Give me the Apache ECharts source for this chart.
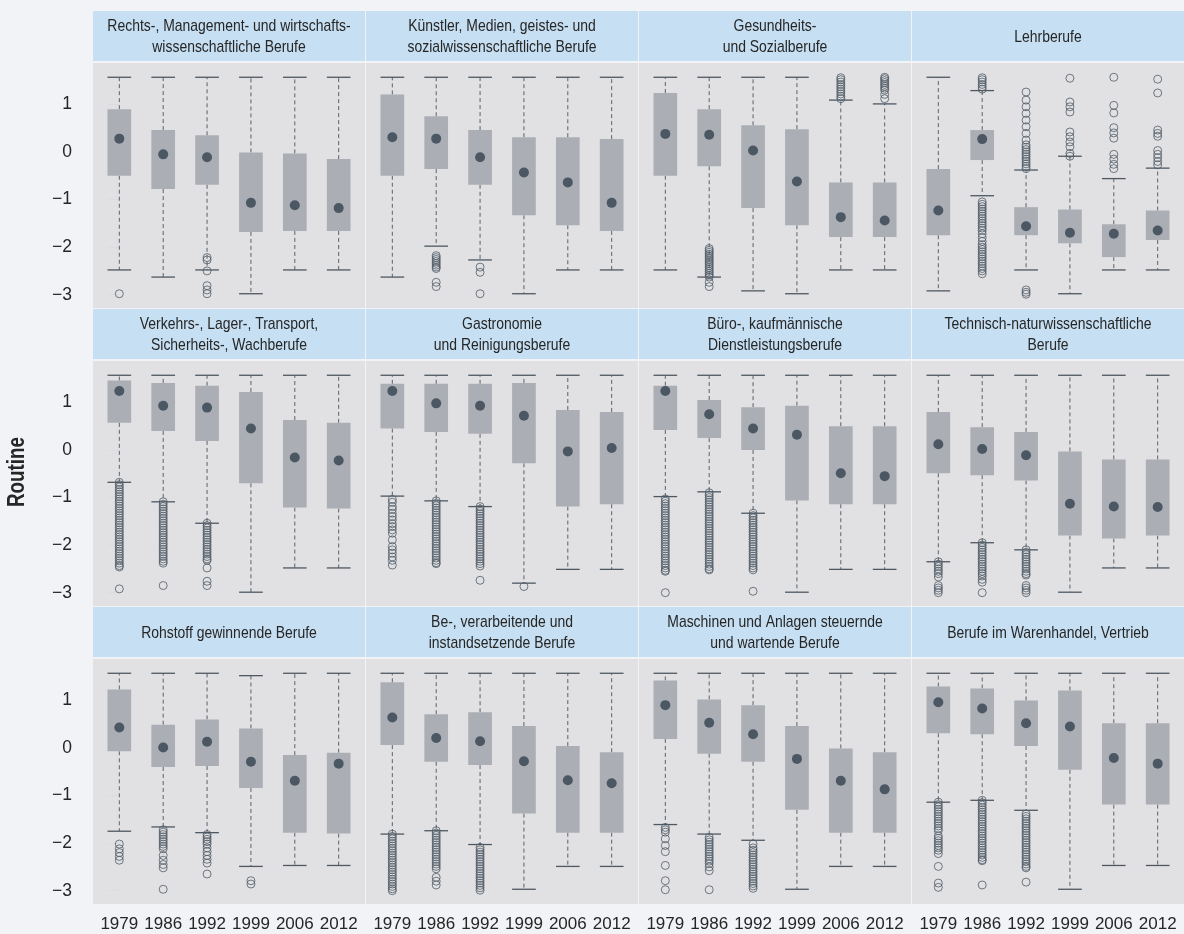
<!DOCTYPE html>
<html>
<head>
<meta charset="utf-8">
<script src="https://cdn.jsdelivr.net/npm/echarts@6/dist/echarts.min.js"></script>
<style>
html,body{margin:0;padding:0;background:#f1f3f6;}
#chart{width:1184px;height:934px;}
</style>
</head>
<body>
<div id="chart"></div>
<script>
// ---------- data ----------
const years = ['1979', '1986', '1992', '1999', '2006', '2012'];
const yTicks = [-3, -2, -1, 0, 1];
const yAxisTitle = 'Routine';

const panelTitles = [
  'Rechts-, Management- und wirtschafts-\nwissenschaftliche Berufe',
  'Künstler, Medien, geistes- und\nsozialwissenschaftliche Berufe',
  'Gesundheits-\nund Sozialberufe',
  'Lehrberufe',
  'Verkehrs-, Lager-, Transport,\nSicherheits-, Wachberufe',
  'Gastronomie\nund Reinigungsberufe',
  'Büro-, kaufmännische\nDienstleistungsberufe',
  'Technisch-naturwissenschaftliche\nBerufe',
  'Rohstoff gewinnende Berufe',
  'Be-, verarbeitende und\ninstandsetzende Berufe',
  'Maschinen und Anlagen steuernde\nund wartende Berufe',
  'Berufe im Warenhandel, Vertrieb'
];

const lowerWhisker = [
  [-2.48, -2.63, -2.48, -2.98, -2.48, -2.48],
  [-2.63, -1.98, -2.27, -2.98, -2.48, -2.48],
  [-2.48, -2.63, -2.92, -2.98, -2.48, -2.48],
  [-2.92, -0.92, -2.48, -2.98, -2.48, -2.48],
  [-0.68, -1.09, -1.54, -2.99, -2.48, -2.48],
  [-0.97, -1.07, -1.19, -2.80, -2.51, -2.51],
  [-0.98, -0.88, -1.33, -2.99, -2.51, -2.51],
  [-2.35, -1.95, -2.10, -2.99, -2.48, -2.48],
  [-1.75, -1.66, -1.78, -2.49, -2.47, -2.47],
  [-1.81, -1.74, -2.03, -2.97, -2.49, -2.49],
  [-1.61, -1.81, -1.94, -2.97, -2.49, -2.49],
  [-1.14, -1.10, -1.31, -2.97, -2.47, -2.47]
];
const lowerQuartile = [
  [-0.50, -0.78, -0.69, -1.68, -1.66, -1.66],
  [-0.50, -0.36, -0.69, -1.33, -1.54, -1.66],
  [-0.50, -0.30, -1.18, -1.54, -1.79, -1.79],
  [-1.75, -0.17, -1.75, -1.92, -2.21, -1.85],
  [0.57, 0.40, 0.19, -0.70, -1.21, -1.23],
  [0.45, 0.38, 0.34, -0.28, -1.19, -1.14],
  [0.42, 0.25, 0.00, -1.06, -1.14, -1.14],
  [-0.49, -0.53, -0.64, -1.80, -1.86, -1.80],
  [-0.07, -0.40, -0.38, -0.84, -1.78, -1.80],
  [0.06, -0.29, -0.36, -1.38, -1.78, -1.78],
  [0.19, -0.12, -0.29, -1.30, -1.78, -1.78],
  [0.31, 0.29, 0.04, -0.46, -1.19, -1.19]
];
const medians = [
  [0.28, -0.05, -0.11, -1.07, -1.12, -1.18],
  [0.31, 0.28, -0.11, -0.43, -0.64, -1.07],
  [0.38, 0.36, 0.03, -0.62, -1.37, -1.44],
  [-1.23, 0.27, -1.56, -1.70, -1.72, -1.65],
  [1.24, 0.93, 0.89, 0.45, -0.16, -0.22],
  [1.24, 0.98, 0.93, 0.72, -0.03, 0.04],
  [1.24, 0.75, 0.45, 0.32, -0.49, -0.55],
  [0.12, 0.02, -0.11, -1.13, -1.19, -1.20],
  [0.43, 0.01, 0.13, -0.29, -0.69, -0.33],
  [0.64, 0.21, 0.14, -0.28, -0.68, -0.74],
  [0.90, 0.53, 0.29, -0.23, -0.69, -0.87],
  [0.96, 0.83, 0.52, 0.45, -0.21, -0.33]
];
const upperQuartile = [
  [0.90, 0.46, 0.35, -0.01, -0.03, -0.15],
  [1.21, 0.75, 0.46, 0.31, 0.31, 0.27],
  [1.24, 0.90, 0.56, 0.48, -0.64, -0.64],
  [-0.36, 0.46, -1.16, -1.21, -1.52, -1.23],
  [1.46, 1.41, 1.35, 1.22, 0.63, 0.57],
  [1.39, 1.39, 1.39, 1.41, 0.84, 0.80],
  [1.35, 1.05, 0.90, 0.93, 0.50, 0.50],
  [0.80, 0.48, 0.38, -0.03, -0.20, -0.20],
  [1.23, 0.49, 0.60, 0.41, -0.15, -0.10],
  [1.38, 0.71, 0.75, 0.46, 0.04, -0.09],
  [1.42, 1.02, 0.90, 0.46, -0.01, -0.09],
  [1.29, 1.25, 1.00, 1.21, 0.52, 0.52]
];
const upperWhisker = [
  [1.57, 1.57, 1.57, 1.57, 1.57, 1.57],
  [1.57, 1.57, 1.57, 1.57, 1.57, 1.57],
  [1.57, 1.57, 1.57, 1.57, 1.09, 1.01],
  [1.57, 1.29, -0.38, -0.09, -0.56, -0.34],
  [1.57, 1.57, 1.57, 1.57, 1.57, 1.57],
  [1.57, 1.57, 1.57, 1.57, 1.57, 1.57],
  [1.57, 1.57, 1.57, 1.57, 1.57, 1.57],
  [1.57, 1.57, 1.57, 1.57, 1.57, 1.57],
  [1.57, 1.57, 1.57, 1.52, 1.57, 1.57],
  [1.57, 1.57, 1.57, 1.57, 1.57, 1.57],
  [1.57, 1.57, 1.57, 1.57, 1.57, 1.57],
  [1.57, 1.57, 1.57, 1.57, 1.57, 1.57]
];
const outliers = [
  [[-2.98], [], [-2.22, -2.27, -2.50, -2.81, -2.90, -2.98], [], [], []],
  [[], [-2.18, -2.22, -2.26, -2.30, -2.34, -2.38, -2.42, -2.45, -2.74, -2.83], [-2.42, -2.53, -2.98], [], [], []],
  [[], [-2.03, -2.07, -2.11, -2.15, -2.19, -2.23, -2.27, -2.31, -2.35, -2.39, -2.43, -2.47, -2.51, -2.55, -2.59, -2.63, -2.74, -2.83], [], [],
   [1.12, 1.17, 1.22, 1.27, 1.32, 1.37, 1.42, 1.47, 1.52, 1.56],
   [1.12, 1.21, 1.30, 1.34, 1.38, 1.42, 1.46, 1.50, 1.54, 1.57]],
  [[],
   [1.32, 1.37, 1.42, 1.47, 1.52, 1.56, -1.05, -1.10, -1.15, -1.20, -1.25, -1.30, -1.35, -1.40, -1.45, -1.50, -1.55, -1.60, -1.65, -1.72, -1.80, -1.88, -1.95, -2.00, -2.05, -2.10, -2.15, -2.20, -2.25, -2.30, -2.35, -2.40, -2.45, -2.50, -2.56],
   [1.26, 1.09, 0.95, 0.81, 0.67, 0.53, 0.39, 0.25, 0.15, 0.10, 0.05, 0.00, -0.05, -0.10, -0.15, -0.20, -0.25, -0.30, -0.35, -2.90, -2.95, -2.99],
   [1.55, 1.05, 0.95, 0.84, 0.42, 0.32, 0.21, 0.11, -0.03, -0.09],
   [1.57, 0.98, 0.82, 0.51, 0.40, 0.29, -0.05, -0.15, -0.26, -0.35],
   [1.53, 1.24, 0.46, 0.39, 0.33, 0.03, -0.05, -0.12, -0.20, -0.27]],
  [[-0.68, -0.73, -0.78, -0.83, -0.88, -0.93, -0.98, -1.03, -1.08, -1.13, -1.18, -1.23, -1.28, -1.33, -1.38, -1.43, -1.48, -1.53, -1.58, -1.63, -1.68, -1.73, -1.78, -1.83, -1.88, -1.93, -1.98, -2.03, -2.08, -2.13, -2.18, -2.23, -2.28, -2.33, -2.38, -2.43, -2.46, -2.92],
   [-1.09, -1.14, -1.19, -1.24, -1.29, -1.34, -1.39, -1.44, -1.49, -1.54, -1.59, -1.64, -1.69, -1.74, -1.79, -1.84, -1.89, -1.94, -1.99, -2.04, -2.09, -2.14, -2.19, -2.24, -2.29, -2.34, -2.38, -2.85],
   [-1.54, -1.59, -1.64, -1.69, -1.74, -1.79, -1.84, -1.89, -1.94, -1.99, -2.04, -2.09, -2.14, -2.19, -2.24, -2.29, -2.32, -2.48, -2.76, -2.85],
   [], [], []],
  [[-1.04, -1.10, -1.19, -1.25, -1.33, -1.40, -1.47, -1.55, -1.61, -1.68, -1.75, -1.89, -2.03, -2.10, -2.17, -2.25, -2.32, -2.42],
   [-1.07, -1.12, -1.17, -1.22, -1.27, -1.32, -1.37, -1.42, -1.47, -1.52, -1.57, -1.62, -1.67, -1.72, -1.77, -1.82, -1.87, -1.92, -1.97, -2.02, -2.07, -2.12, -2.17, -2.22, -2.27, -2.32, -2.37, -2.39],
   [-1.19, -1.24, -1.29, -1.34, -1.39, -1.44, -1.49, -1.54, -1.59, -1.64, -1.69, -1.74, -1.79, -1.84, -1.89, -1.94, -1.99, -2.04, -2.09, -2.14, -2.19, -2.24, -2.29, -2.34, -2.39, -2.44, -2.74],
   [-2.87], [], []],
  [[-1.03, -1.08, -1.13, -1.18, -1.23, -1.28, -1.33, -1.38, -1.43, -1.48, -1.53, -1.58, -1.63, -1.68, -1.73, -1.78, -1.83, -1.88, -1.93, -1.98, -2.03, -2.08, -2.13, -2.18, -2.23, -2.28, -2.33, -2.38, -2.43, -2.48, -2.53, -2.55, -3.00],
   [-0.90, -0.95, -1.00, -1.05, -1.10, -1.15, -1.20, -1.25, -1.30, -1.35, -1.40, -1.45, -1.50, -1.55, -1.60, -1.65, -1.70, -1.75, -1.80, -1.85, -1.90, -1.95, -2.00, -2.05, -2.10, -2.15, -2.20, -2.25, -2.30, -2.35, -2.40, -2.45, -2.50, -2.52],
   [-1.33, -1.38, -1.43, -1.48, -1.53, -1.58, -1.63, -1.68, -1.73, -1.78, -1.83, -1.88, -1.93, -1.98, -2.03, -2.08, -2.13, -2.18, -2.23, -2.28, -2.33, -2.38, -2.43, -2.48, -2.52, -2.97],
   [], [], []],
  [[-2.35, -2.40, -2.45, -2.50, -2.55, -2.60, -2.67, -2.85, -2.90, -2.95, -3.00],
   [-1.95, -2.00, -2.05, -2.10, -2.15, -2.20, -2.25, -2.30, -2.35, -2.40, -2.45, -2.50, -2.55, -2.60, -2.65, -2.72, -2.78, -3.00],
   [-2.10, -2.15, -2.20, -2.25, -2.30, -2.35, -2.40, -2.45, -2.50, -2.55, -2.60, -2.63, -2.85, -2.90, -2.95, -3.00],
   [], [], []],
  [[-2.02, -2.12, -2.20, -2.28, -2.36],
   [-1.72, -1.77, -1.82, -1.87, -1.92, -1.97, -2.02, -2.07, -2.12, -2.26, -2.36, -2.45, -2.52, -2.97],
   [-1.82, -1.87, -1.92, -1.97, -2.02, -2.10, -2.18, -2.26, -2.34, -2.42, -2.65],
   [-2.79, -2.86], [], []],
  [[-1.81, -1.86, -1.91, -1.96, -2.01, -2.06, -2.11, -2.16, -2.21, -2.26, -2.31, -2.36, -2.41, -2.46, -2.51, -2.56, -2.61, -2.66, -2.71, -2.76, -2.81, -2.86, -2.91, -2.96, -3.00],
   [-1.74, -1.79, -1.84, -1.89, -1.94, -1.99, -2.04, -2.09, -2.14, -2.19, -2.24, -2.29, -2.34, -2.39, -2.44, -2.49, -2.54, -2.72, -2.80, -2.88],
   [-2.09, -2.14, -2.19, -2.24, -2.29, -2.34, -2.39, -2.44, -2.49, -2.54, -2.59, -2.64, -2.69, -2.74, -2.79, -2.84, -2.89, -2.94, -2.99],
   [], [], []],
  [[-1.67, -1.72, -1.77, -1.91, -2.05, -2.18, -2.47, -2.79, -2.98],
   [-1.88, -1.93, -1.98, -2.03, -2.08, -2.13, -2.18, -2.23, -2.28, -2.33, -2.38, -2.43, -2.50, -2.58, -2.98],
   [-2.02, -2.10, -2.15, -2.20, -2.25, -2.30, -2.35, -2.40, -2.45, -2.50, -2.55, -2.60, -2.65, -2.70, -2.75, -2.80, -2.85, -2.90, -2.95],
   [], [], []],
  [[-1.14, -1.19, -1.24, -1.29, -1.34, -1.39, -1.44, -1.49, -1.54, -1.59, -1.64, -1.69, -1.74, -1.85, -1.90, -1.95, -2.00, -2.05, -2.10, -2.15, -2.22, -2.49, -2.84, -2.93],
   [-1.10, -1.15, -1.20, -1.25, -1.30, -1.35, -1.40, -1.45, -1.50, -1.55, -1.60, -1.65, -1.70, -1.75, -1.80, -1.85, -1.90, -1.95, -2.00, -2.05, -2.10, -2.15, -2.20, -2.25, -2.30, -2.35, -2.37, -2.88],
   [-1.39, -1.44, -1.49, -1.54, -1.59, -1.64, -1.69, -1.74, -1.79, -1.84, -1.89, -1.94, -1.99, -2.04, -2.09, -2.14, -2.19, -2.24, -2.29, -2.34, -2.39, -2.44, -2.49, -2.52, -2.82],
   [], [], []]
];

// ---------- style / layout ----------
const PAGE_BG = '#f1f3f6';
const HEADER_BG = '#c6dff2';
const PLOT_BG = '#e1e1e3';
const BOX_FILL = '#abaeb4';
const DOT_FILL = '#4b5864';
const WHISKER = '#58626c';
const CAP = '#4e5862';
const OUTLIER = '#505b66';
const TEXT = '#262626';
const FONT = '"Liberation Sans", Arial, sans-serif';
const CONDENSE = 0.82;

const PANEL_LEFT = 93, PANEL_PITCH_X = 273, PANEL_W = 272;
const HEADER_TOP = 11, ROW_PITCH = 298, HEADER_H = 50, PLOT_OFFSET = 52, PLOT_H = 245;
const BOX_W = 0.54;
const Y_MIN = -3.28, Y_MAX = 1.87;

function fmtY(v) { return v < 0 ? '\u2212' + Math.abs(v) : String(v); }

function renderBox(params, api) {
  const x = api.value(0);
  const lo = api.coord([x, api.value(1)]);
  const q1 = api.coord([x, api.value(2)]);
  const md = api.coord([x, api.value(3)]);
  const q3 = api.coord([x, api.value(4)]);
  const hi = api.coord([x, api.value(5)]);
  const bw = api.size([BOX_W, 0])[0];
  const cx = lo[0];
  const dash = { stroke: WHISKER, lineWidth: 1, lineDash: [4, 3] };
  const cap = { stroke: CAP, lineWidth: 1.3 };
  return {
    type: 'group',
    children: [
      { type: 'line', shape: { x1: cx, y1: q1[1], x2: cx, y2: lo[1] }, style: dash },
      { type: 'line', shape: { x1: cx, y1: q3[1], x2: cx, y2: hi[1] }, style: dash },
      { type: 'line', shape: { x1: cx - bw / 2, y1: lo[1], x2: cx + bw / 2, y2: lo[1] }, style: cap },
      { type: 'line', shape: { x1: cx - bw / 2, y1: hi[1], x2: cx + bw / 2, y2: hi[1] }, style: cap },
      { type: 'rect', shape: { x: cx - bw / 2, y: q3[1], width: bw, height: q1[1] - q3[1] }, style: { fill: BOX_FILL } },
      { type: 'circle', shape: { cx: cx, cy: md[1], r: 5 }, style: { fill: DOT_FILL } }
    ]
  };
}

const option = {
  backgroundColor: PAGE_BG,
  animation: false,
  grid: [], xAxis: [], yAxis: [], series: [], graphic: []
};

panelTitles.forEach(function (title, p) {
  const r = Math.floor(p / 4), c = p % 4;
  const left = PANEL_LEFT + c * PANEL_PITCH_X;
  const hTop = HEADER_TOP + r * ROW_PITCH;
  const top = hTop + PLOT_OFFSET;

  option.graphic.push({
    type: 'rect', silent: true, z: 0,
    shape: { x: left, y: hTop, width: PANEL_W, height: HEADER_H },
    style: { fill: HEADER_BG }
  });
  option.graphic.push({
    type: 'text', silent: true, z: 1,
    x: left + PANEL_W / 2, y: hTop + HEADER_H / 2 + 1,
    scaleX: CONDENSE, scaleY: 1,
    style: {
      text: title, fill: TEXT, fontSize: 17, fontFamily: FONT,
      align: 'center', verticalAlign: 'middle', lineHeight: 21
    }
  });

  option.grid.push({
    left: left, top: top, width: PANEL_W, height: PLOT_H,
    show: true, backgroundColor: PLOT_BG, borderWidth: 0,
    containLabel: false, outerBoundsMode: 'none'
  });

  option.xAxis.push({
    gridIndex: p, type: 'value', min: -0.6, max: 5.6,
    axisLine: { show: false }, axisTick: { show: false }, splitLine: { show: false },
    axisLabel: {
      show: r === 2, customValues: [0, 1, 2, 3, 4, 5],
      formatter: function (v) { return years[Math.round(v)]; },
      fontSize: 17, fontFamily: FONT, color: TEXT, margin: 12
    }
  });

  option.yAxis.push({
    gridIndex: p, type: 'value', min: Y_MIN, max: Y_MAX,
    axisLine: { show: false }, splitLine: { show: false },
    axisTick: { show: c === 0, customValues: yTicks, length: 11, lineStyle: { color: '#d9dce1', width: 1 } },
    axisLabel: {
      show: c === 0, customValues: yTicks, formatter: fmtY,
      fontSize: 17.5, fontFamily: FONT, color: TEXT, margin: 21
    }
  });

  const boxData = years.map(function (y, i) {
    return [i, lowerWhisker[p][i], lowerQuartile[p][i], medians[p][i], upperQuartile[p][i], upperWhisker[p][i]];
  });
  option.series.push({
    type: 'custom', xAxisIndex: p, yAxisIndex: p, silent: true, z: 2,
    renderItem: renderBox, data: boxData,
    encode: { x: 0, y: [1, 2, 3, 4, 5] }
  });

  const outData = [];
  outliers[p].forEach(function (vals, i) {
    vals.forEach(function (v) { outData.push([i, v]); });
  });
  option.series.push({
    type: 'scatter', xAxisIndex: p, yAxisIndex: p, silent: true, z: 3,
    symbol: 'circle', symbolSize: 8,
    itemStyle: { color: 'rgba(0,0,0,0)', borderColor: OUTLIER, borderWidth: 1 },
    data: outData
  });
});

option.graphic.push({
  type: 'text', silent: true,
  x: 18, y: 472, rotation: Math.PI / 2,
  scaleX: CONDENSE, scaleY: 1,
  style: {
    text: yAxisTitle, fill: TEXT, fontSize: 23, fontWeight: 'bold', fontFamily: FONT,
    align: 'center', verticalAlign: 'middle'
  }
});

const chart = echarts.init(document.getElementById('chart'), null, { renderer: 'canvas' });
chart.setOption(option);
</script>
</body>
</html>
